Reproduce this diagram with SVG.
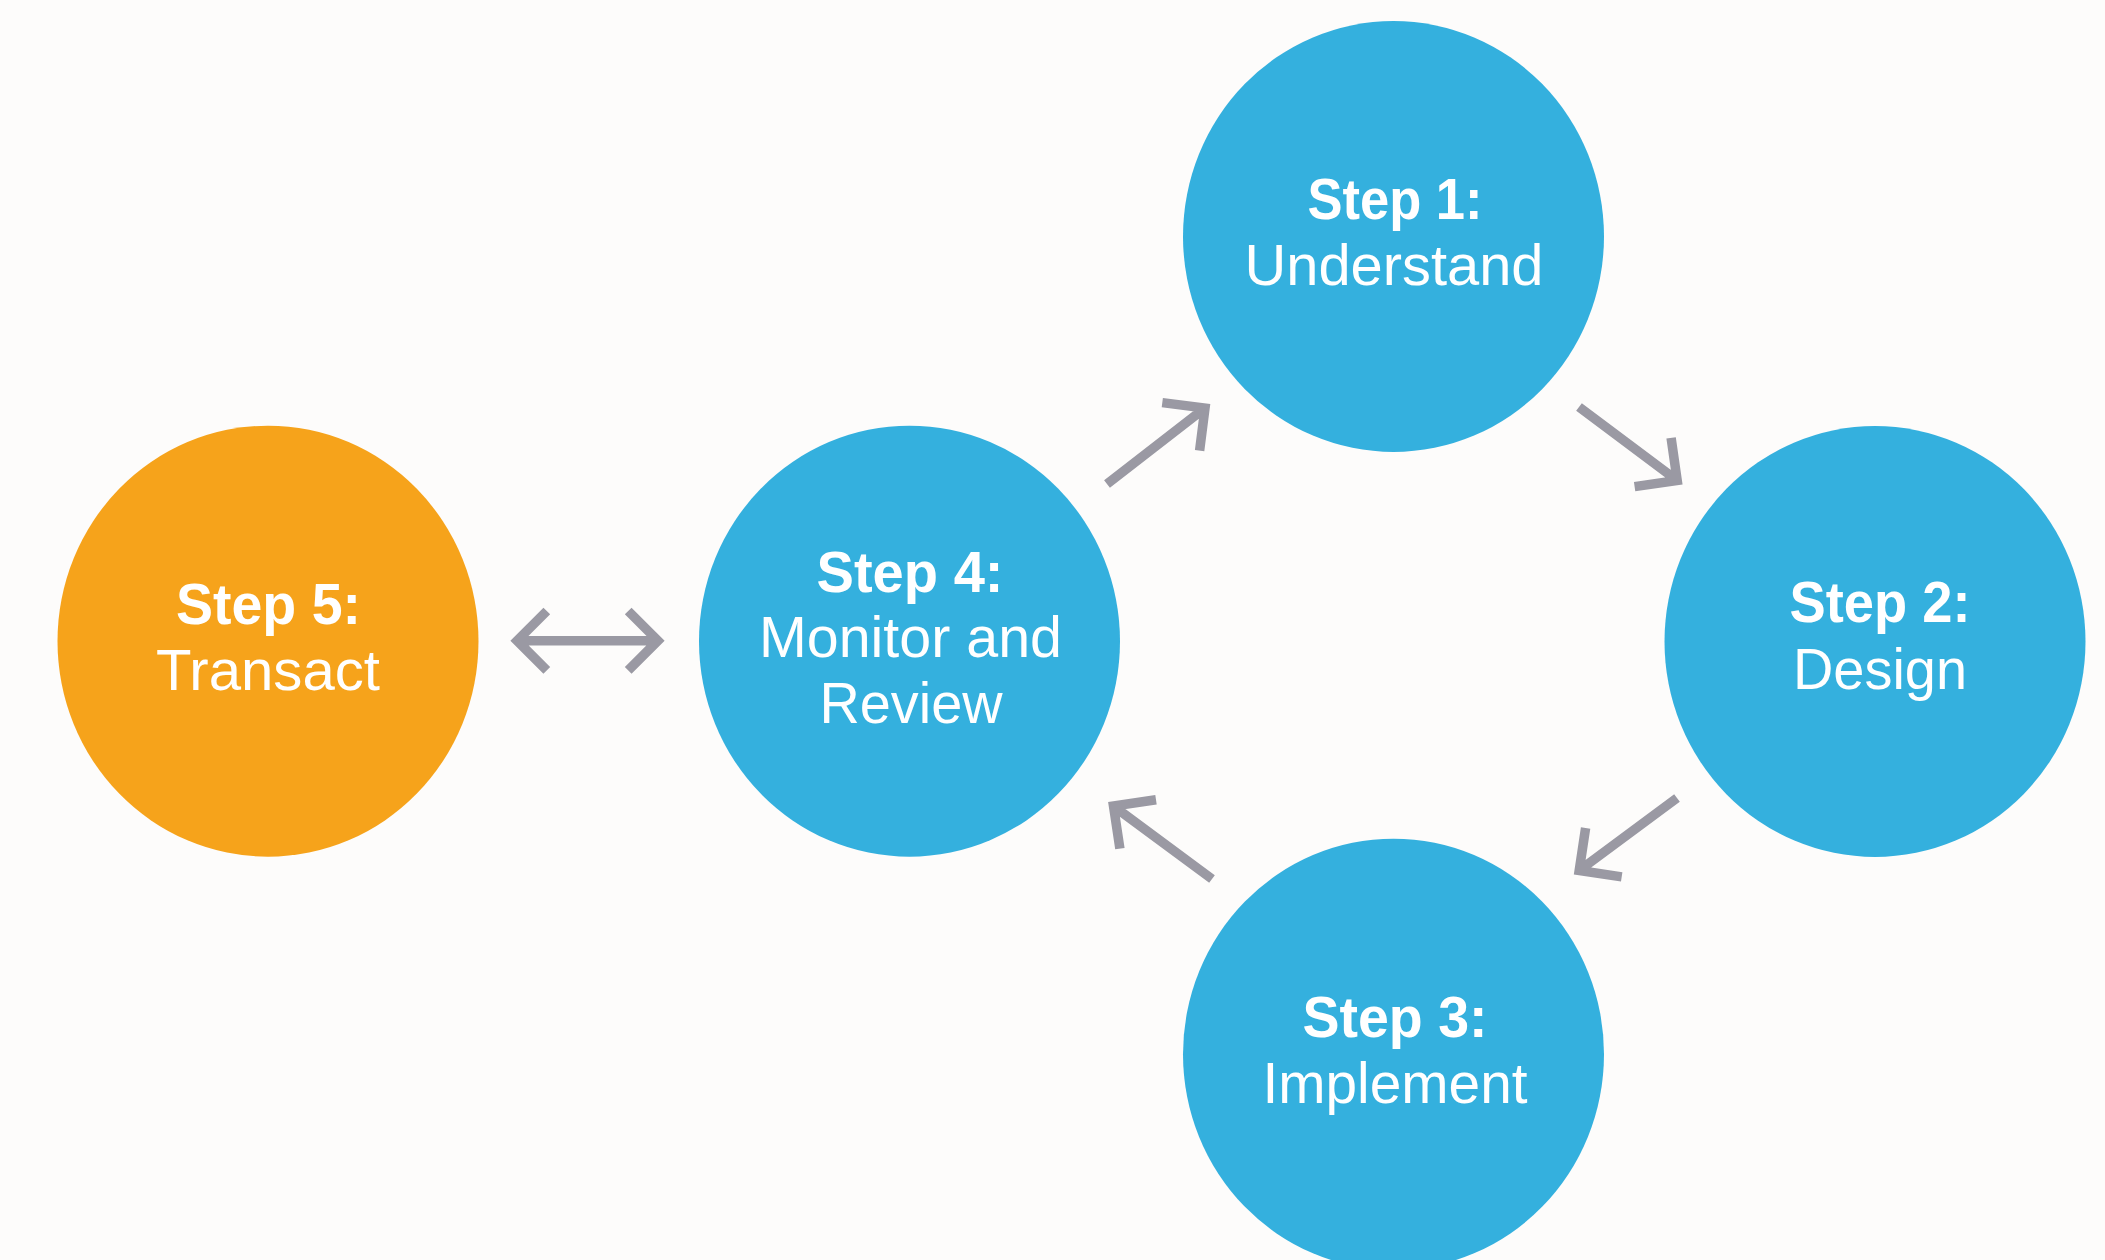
<svg xmlns="http://www.w3.org/2000/svg" width="2105" height="1260" viewBox="0 0 2105 1260">
<style>
.bg{fill:#FDFCFB}
.blue{fill:#34B0DE}
.orange{fill:#F6A31B}
.t{font-family:"Liberation Sans",Arial,Helvetica,sans-serif;fill:#FFFFFF;text-anchor:middle;font-size:58px;font-weight:400}
.b{font-weight:700}
.arrow{fill:none;stroke:#9A99A3;stroke-width:9.5;stroke-linecap:butt;stroke-linejoin:miter;stroke-miterlimit:10}
</style>
<rect class="bg" x="0" y="0" width="2105" height="1260"/>
<g id="connectors">
<path id="c4to1" class="arrow" d="M1107,484 L1205,408 M1162.3,402.6 L1205,408 L1199.6,450.7"/>
<path id="c1to2" class="arrow" d="M1579,407 L1677.2,480.5 M1671.1,437.9 L1677.2,480.5 L1634.6,486.6"/>
<path id="c2to3" class="arrow" d="M1677,798 L1579.2,870.5 M1621.7,876.9 L1579.2,870.5 L1585.6,828"/>
<path id="c3to4" class="arrow" d="M1212,879 L1113.5,806.1 M1156,799.7 L1113.5,806.1 L1119.9,848.6"/>
<path id="c5to4" class="arrow" d="M517.1,640.7 L657.9,640.7 M546.8,611 L517.1,640.7 L546.8,670.4 M628.2,611 L657.9,640.7 L628.2,670.4"/>
</g>
<g id="step1">
<ellipse class="blue" cx="1393.5" cy="236.5" rx="210.5" ry="215.5"/>
<text class="t b" x="1395" y="219" textLength="175" lengthAdjust="spacingAndGlyphs">Step 1:</text>
<text class="t" x="1394" y="285" textLength="299" lengthAdjust="spacingAndGlyphs">Understand</text>
</g>
<g id="step2">
<ellipse class="blue" cx="1875" cy="641.5" rx="210.5" ry="215.5"/>
<text class="t b" x="1880" y="622" textLength="181" lengthAdjust="spacingAndGlyphs">Step 2:</text>
<text class="t" x="1880" y="689" textLength="174" lengthAdjust="spacingAndGlyphs">Design</text>
</g>
<g id="step3">
<ellipse class="blue" cx="1393.5" cy="1054.2" rx="210.5" ry="215.5"/>
<text class="t b" x="1395" y="1037" textLength="185" lengthAdjust="spacingAndGlyphs">Step 3:</text>
<text class="t" x="1395" y="1103" textLength="265" lengthAdjust="spacingAndGlyphs">Implement</text>
</g>
<g id="step4">
<ellipse class="blue" cx="909.5" cy="641.2" rx="210.5" ry="215.5"/>
<text class="t b" x="910" y="592" textLength="187" lengthAdjust="spacingAndGlyphs">Step 4:</text>
<text class="t" x="910.5" y="657" textLength="303" lengthAdjust="spacingAndGlyphs">Monitor and</text>
<text class="t" x="911" y="723" textLength="183" lengthAdjust="spacingAndGlyphs">Review</text>
</g>
<g id="step5">
<ellipse class="orange" cx="268" cy="641.2" rx="210.5" ry="215.5"/>
<text class="t b" x="268.5" y="624" textLength="185" lengthAdjust="spacingAndGlyphs">Step 5:</text>
<text class="t" x="268" y="690" textLength="224" lengthAdjust="spacingAndGlyphs">Transact</text>
</g>
</svg>
